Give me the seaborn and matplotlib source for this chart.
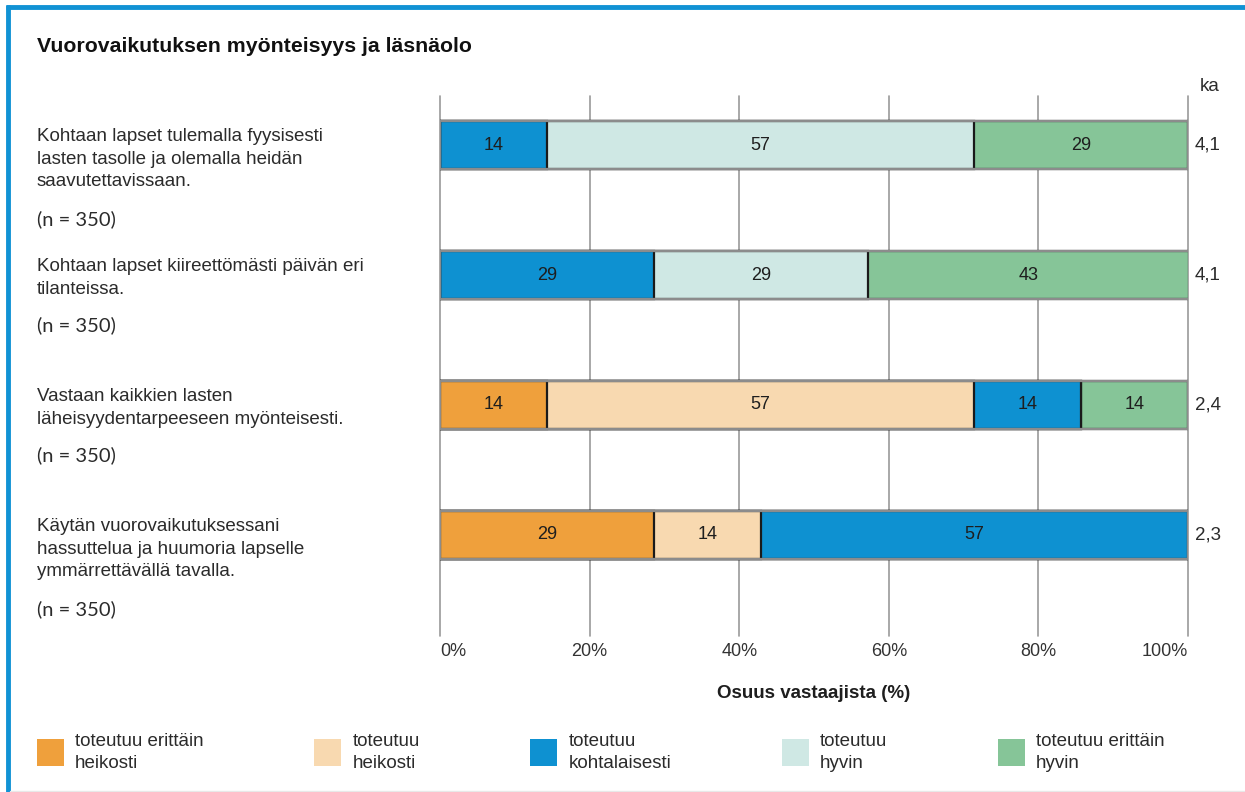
import matplotlib
matplotlib.use("Agg")
import matplotlib.pyplot as plt
import matplotlib.transforms as mtransforms
from matplotlib.patches import Patch
from matplotlib.lines import Line2D
import numpy as np
import pandas as pd
import seaborn as sns

# ====================== data ======================
QUESTIONS = [
    "Kohtaan lapset tulemalla fyysisesti\nlasten tasolle ja olemalla heidän\nsaavutettavissaan.",
    "Kohtaan lapset kiireettömästi päivän eri\ntilanteissa.",
    "Vastaan kaikkien lasten\nläheisyydentarpeeseen myönteisesti.",
    "Käytän vuorovaikutuksessani\nhassuttelua ja huumoria lapselle\nymmärrettävällä tavalla.",
]
N_LABELS = ["(n = 350)", "(n = 350)", "(n = 350)", "(n = 350)"]
CATEGORIES = [
    "toteutuu erittäin\nheikosti",
    "toteutuu\nheikosti",
    "toteutuu\nkohtalaisesti",
    "toteutuu\nhyvin",
    "toteutuu erittäin\nhyvin",
]
# osuus vastaajista (%) per kysymys
very_weak = [0, 0, 14.3, 28.6]
weak      = [0, 0, 57.1, 14.3]
moderate  = [14.3, 28.6, 14.3, 57.1]
good      = [57.1, 28.6, 0, 0]
very_good = [28.6, 42.9, 14.3, 0]
MEANS = ["4,1", "4,1", "2,4", "2,3"]
X_TICKS = [0, 20, 40, 60, 80, 100]

# ====================== style ======================
COLORS = ["#EFA03C", "#F8D9B0", "#0E91D1", "#CFE8E4", "#86C598"]
TEXT_COLOR = "#2b2b2b"
GRID_COLOR = "#9a9a9a"
FRAME_BLUE = "#1192D4"
FS = 13.5

sns.set_style("white")
plt.rcParams["font.family"] = ["Liberation Sans", "DejaVu Sans"]
plt.rcParams["text.color"] = TEXT_COLOR

W, H = 1245, 792
fig = plt.figure(figsize=(W / 100, H / 100), dpi=100)
ax = fig.add_axes([440 / W, 1 - 636 / H, 748 / W, 540 / H])

keys = [f"Q{i + 1}" for i in range(len(QUESTIONS))]
shares = np.array([very_weak, weak, moderate, good, very_good], dtype=float)
cum = shares.cumsum(axis=0)
df = pd.DataFrame({
    "kysymys": np.tile(keys, len(CATEGORIES)),
    "luokka": np.repeat(np.arange(len(CATEGORIES)), len(keys)),
    "osuus": shares.ravel(),
    "kumul": cum.ravel(),
})

BAR_W = 0.37
# pinotut palkit: piirretään kumulatiiviset summat takaperin
for k in reversed(range(len(CATEGORIES))):
    sub = df[df["luokka"] == k]
    sns.barplot(data=sub, x="kumul", y="kysymys", order=keys, orient="h",
                color=COLORS[k], saturation=1, width=BAR_W, errorbar=None,
                edgecolor="#1a1a1a", linewidth=1.6, zorder=2, ax=ax)

# harmaa ulkoreuna
sns.barplot(x=cum[-1], y=keys, order=keys, orient="h", fill=False,
            color="#8c8c8c", saturation=1, width=BAR_W, errorbar=None,
            linewidth=1.6, zorder=3, ax=ax)

# arvot palkkien sisään
for k in range(len(CATEGORIES)):
    for i in range(len(keys)):
        v = shares[k, i]
        if v > 0:
            ax.text(cum[k, i] - v / 2, i, f"{round(v)}", ha="center", va="center",
                    fontsize=13, color="#1e1e1e", zorder=4)

# keskiarvot
trans_ax_data = mtransforms.blended_transform_factory(ax.transAxes, ax.transData)
for i, m in enumerate(MEANS):
    ax.text(1.009, i, m, transform=trans_ax_data, ha="left", va="center",
            fontsize=FS, clip_on=False)
ax.text(1.016, 1.017, "ka", transform=ax.transAxes, ha="left", va="center",
        fontsize=FS)

# kysymystekstit vasemmalle
trans_fig_data = mtransforms.blended_transform_factory(fig.transFigure, ax.transData)
SPACING = 130.0
for i, (q, n) in enumerate(zip(QUESTIONS, N_LABELS)):
    nlines = q.count("\n") + 1
    ax.text(37 / W, i - 0.13, q, transform=trans_fig_data, ha="left", va="top",
            fontsize=FS, linespacing=1.42, clip_on=False)
    ax.text(37 / W, i - 0.05 + (nlines * 23.5 + 10) / SPACING, n,
            transform=trans_fig_data, ha="left", va="center", fontsize=14.5,
            family=["Lato", "DejaVu Sans"], clip_on=False)

# akselit
ax.set_xlim(0, 100)
ax.set_ylim(3.777, -0.377)
ax.set_xticks(X_TICKS)
ax.set_xticklabels([f"{t}%" for t in X_TICKS])
labels = ax.get_xticklabels()
labels[0].set_ha("left")
labels[-1].set_ha("right")
ax.tick_params(axis="x", length=0, pad=5, labelsize=13, labelcolor="#333333")
ax.set_yticks([])
ax.set_ylabel("")
ax.set_xlabel("Osuus vastaajista (%)", fontsize=FS, fontweight="bold", color="#1e1e1e")
ax.xaxis.set_label_coords(0.5, -0.09)
ax.set_axisbelow(True)
ax.grid(axis="x", color=GRID_COLOR, linewidth=1.2)
for gl in ax.get_xgridlines():
    gl.set_clip_on(False)
for sp in ax.spines.values():
    sp.set_visible(False)

# otsikko
fig.text(37 / W, 1 - 46 / H, "Vuorovaikutuksen myönteisyys ja läsnäolo",
         fontsize=15.3, fontweight="bold", color="#111111", va="center", ha="left")

# selite
handles = [Patch(facecolor=c, edgecolor="none") for c in COLORS]
leg = fig.legend(handles, CATEGORIES, loc="upper left",
                 bbox_to_anchor=(37 / W, 1 - 733 / H), ncol=5, frameon=False,
                 fontsize=FS, handlelength=1.44, handleheight=1.85,
                 handletextpad=0.59, columnspacing=5.9, borderpad=0, borderaxespad=0)
for t in leg.get_texts():
    t.set_linespacing(1.37)
    t.set_color(TEXT_COLOR)

# sininen kehys
fig.add_artist(Line2D([6 / W, 1], [1 - 7 / H, 1 - 7 / H], transform=fig.transFigure,
                      color=FRAME_BLUE, linewidth=3.5, solid_capstyle="butt"))
fig.add_artist(Line2D([8 / W, 8 / W], [0, 1 - 5 / H], transform=fig.transFigure,
                      color=FRAME_BLUE, linewidth=3.5, solid_capstyle="butt"))
fig.add_artist(Line2D([10 / W, 1], [1.5 / H, 1.5 / H], transform=fig.transFigure,
                      color="#e8e8e8", linewidth=1))

fig.savefig("out.png", dpi=100, facecolor="white")
plt.close(fig)
